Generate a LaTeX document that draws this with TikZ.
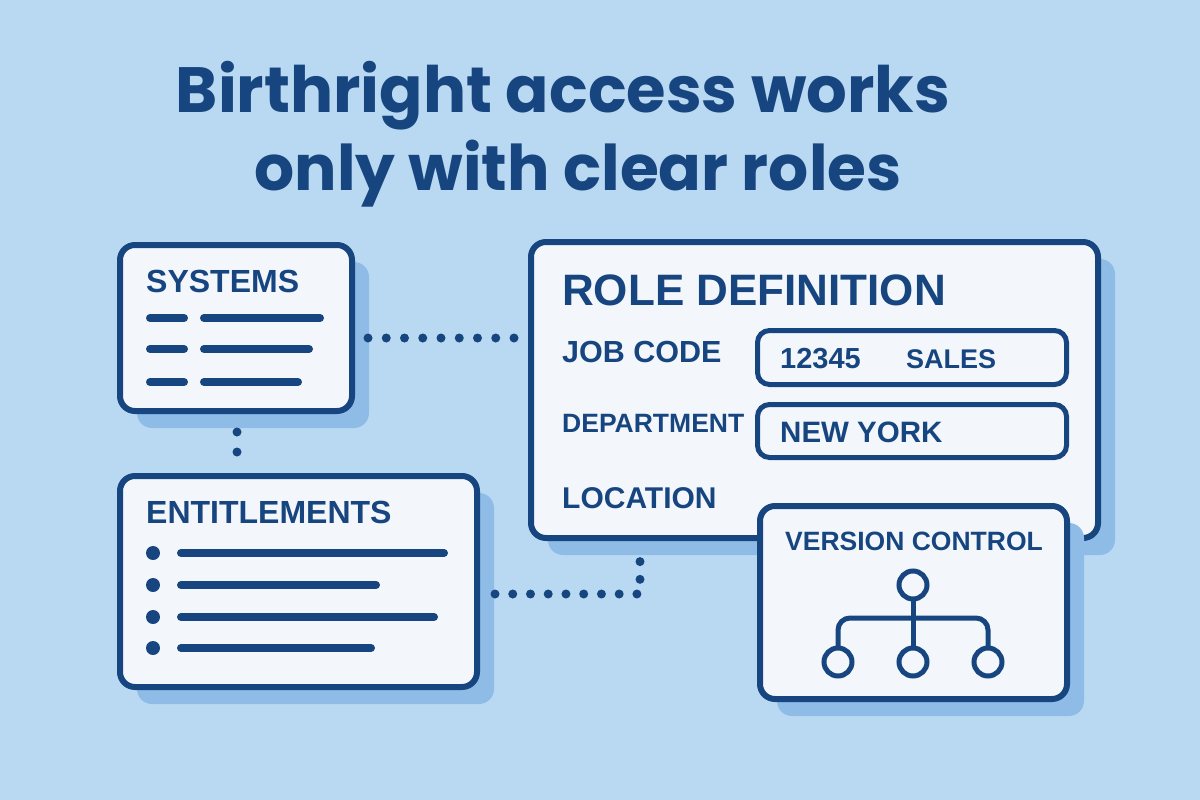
\documentclass[tikz,border=0pt]{standalone}
\usepackage{fontspec}
\usetikzlibrary{calc,shadows}
\newfontfamily\titlefont{Poppins}
\newfontfamily\labfont{Liberation Sans}
\definecolor{bg}{HTML}{B9D9F2}
\definecolor{navy}{HTML}{17457F}
\definecolor{paper}{HTML}{F3F7FC}
\definecolor{shade}{HTML}{8EBCE6}
\newcommand\fs[1]{\fontsize{#1}{#1}\selectfont}
\tikzset{
  card/.style={draw=navy, line width=6pt, fill=paper, rounded corners=15pt, inner sep=0pt, outer sep=0pt,
    drop shadow={shadow xshift=17pt, shadow yshift=-17pt, fill=shade, opacity=1}},
  field/.style={draw=navy, line width=5pt, fill=paper, rounded corners=12pt, inner sep=0pt, outer sep=0pt},
  lbl/.style={text=navy, inner sep=0pt, anchor=base west},
  bar/.style={draw=navy, line width=8pt, line cap=round},
  dotline/.style={draw=navy, line width=9pt, line cap=round, dash pattern=on 0pt off 18.25pt},
  knot/.style={circle, draw=navy, line width=5pt, fill=paper, minimum size=28pt, inner sep=0pt, outer sep=0pt},
  treeline/.style={draw=navy, line width=5pt}
}
\begin{document}
\begin{tikzpicture}[x=1pt,y=-1pt]
\fill[bg] (0,0) rectangle (1200,800);
\useasboundingbox (0,0) rectangle (1200,800);

% title
\node[text=navy, inner sep=0pt, anchor=base, font=\titlefont\bfseries\fs{64}] (title1) at (563,113) {Birthright access works};
\node[text=navy, inner sep=0pt, anchor=base, font=\titlefont\bfseries\fs{63}] (title2) at (578,190) {only with clear roles};

% cards
\node[card, anchor=north west, minimum width=232pt, minimum height=166pt] (sys) at (120,245) {};
\node[card, anchor=north west, minimum width=357pt, minimum height=211pt] (ent) at (120,476) {};
\node[card, anchor=north west, minimum width=567pt, minimum height=296pt] (role) at (531,242) {};

% systems content
\node[lbl, font=\labfont\bfseries\fs{32}] (systxt) at (146,292) {SYSTEMS};
\foreach \y/\e in {318/320,349/309,382/298}{
  \draw[bar] (150,\y) -- (184,\y);
  \draw[bar] (204,\y) -- (\e,\y);
}

% entitlements content
\node[lbl, font=\labfont\bfseries\fs{32}] (enttxt) at (146,523) {ENTITLEMENTS};
\foreach \y/\e in {553/444,585/376,617/434,648/371}{
  \fill[navy] (153,\y) circle (7pt);
  \draw[bar] (181,\y) -- (\e,\y);
}

% role content
\node[lbl, font=\labfont\bfseries\fs{44}] (roletxt) at (562,305) {ROLE DEFINITION};
\node[lbl, font=\labfont\bfseries\fs{30.5}] (jobtxt) at (562,362) {JOB CODE};
\node[lbl, font=\labfont\bfseries\fs{26.5}] (deptxt) at (562,432) {DEPARTMENT};
\node[lbl, font=\labfont\bfseries\fs{30}] (loctxt) at (562,508) {LOCATION};
\node[field, anchor=north west, minimum width=309pt, minimum height=54pt] (f1) at (757.5,330.5) {};
\node[field, anchor=north west, minimum width=309pt, minimum height=53pt] (f2) at (757.5,404.5) {};
\node[lbl, font=\labfont\bfseries\fs{29}] (code) at (780,368) {12345};
\node[lbl, font=\labfont\bfseries\fs{27}] (sales) at (906,368) {SALES};
\node[lbl, font=\labfont\bfseries\fs{29.5}] (ny) at (780,442) {NEW YORK};

% version control card
\node[card, anchor=north west, minimum width=307pt, minimum height=193pt] (ver) at (760,506) {};
\node[text=navy, inner sep=0pt, anchor=base, font=\labfont\bfseries\fs{26.5}] (vertxt) at (914,550) {VERSION CONTROL};
\node[knot] (k0) at (913,585) {};
\node[knot] (k1) at (838,662) {};
\node[knot] (k2) at (913,662) {};
\node[knot] (k3) at (988,662) {};
\draw[treeline] (k0.south) -- (k2.north);
\draw[treeline, rounded corners=12pt] (k1.north) |- (k0 |- 0,618) -| (k3.north);

% connectors
\draw[dotline] ($(sys.east |- 0,338)+(16,0)$) -- ($(role.west |- 0,338)+(-11,0)$);
\draw[dotline, dash pattern=on 0pt off 20pt] ($(sys.south)+(1,21)$) -- ($(sys.south |- ent.north)+(1,-18)$);
\draw[dotline, dash pattern=on 0pt off 17.74pt] ($(ent.east |- 0,594)+(18,0)$) -| ($(role.south west)+(109,20)$);
\end{tikzpicture}
\end{document}
